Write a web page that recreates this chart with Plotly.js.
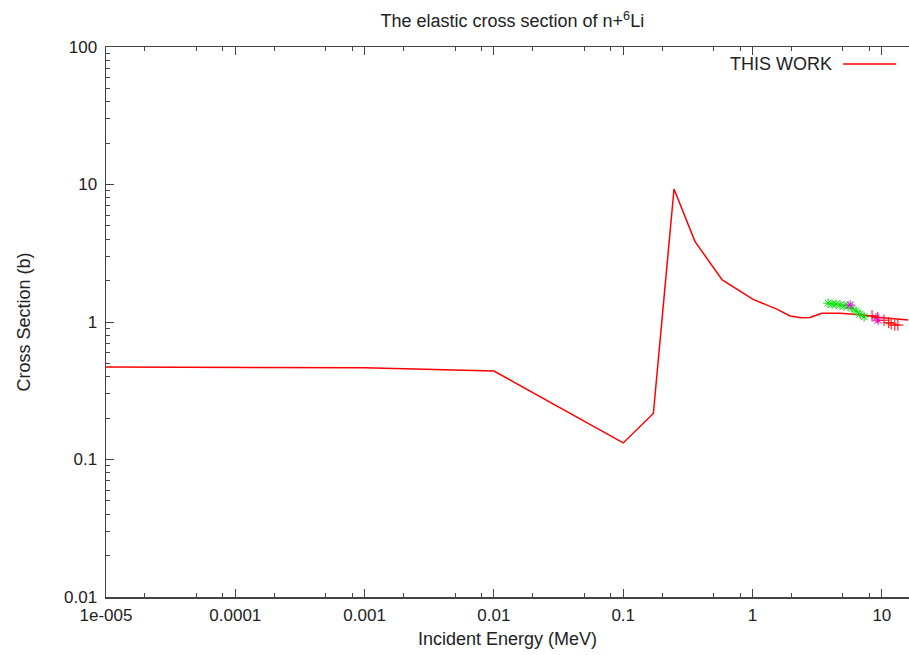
<!DOCTYPE html>
<html>
<head>
<meta charset="utf-8">
<script src="https://cdn.plot.ly/plotly-3.0.1.min.js"></script>
<style>
  html, body { margin: 0; padding: 0; background: #fff; }
  #chart { width: 909px; height: 655px; }
</style>
</head>
<body>
<div id="chart"></div>
<script>
// Evaluated elastic cross section of n + 6Li (energy in MeV, cross section in barns)
const workEnergy = [1e-5, 0.001, 0.01, 0.1, 0.171, 0.247, 0.359, 0.583, 1.01, 1.54, 1.95, 2.4, 2.78, 3.43, 4.75, 7.2, 9.7, 16.0];
const workSigma  = [0.471, 0.465, 0.44, 0.132, 0.216, 9.27, 3.84, 2.02, 1.46, 1.24, 1.107, 1.075, 1.08, 1.156, 1.156, 1.124, 1.08, 1.035];

// Measured points, set A (green)
const expAEnergy = [3.84, 4.12, 4.42, 4.75, 5.10, 5.48, 5.89, 6.32, 6.79, 7.29];
const expASigma  = [1.37, 1.35, 1.35, 1.33, 1.31, 1.31, 1.26, 1.20, 1.14, 1.09];

// Measured points, set B (magenta)
const expBEnergy = [5.68, 9.0, 9.36];
const expBSigma  = [1.33, 1.07, 1.03];

// Measured points, set C (red)
const expCEnergy = [8.4, 9.3, 10.4, 11.3, 11.8, 12.6, 13.3];
const expCSigma  = [1.11, 1.08, 1.03, 0.99, 0.97, 0.95, 0.95];

// Axis tick positions and labels
const xTickVals = [1e-5, 1e-4, 1e-3, 1e-2, 0.1, 1, 10];
const xTickText = ['1e-005', '0.0001', '0.001', '0.01', '0.1', '1', '10'];
const yTickVals = [0.01, 0.1, 1, 10, 100];
const yTickText = ['0.01', '0.1', '1', '10', '100'];

// minor ticks: 2, 5, 8 per decade on x; 2..9 per decade on y
const xMinor = [];
for (let e = -5; e <= 1; e++) {
  [2, 5, 8].forEach(m => xMinor.push(m * Math.pow(10, e)));
}
const yMinor = [];
for (let e = -2; e <= 1; e++) {
  for (let m = 2; m <= 9; m++) yMinor.push(m * Math.pow(10, e));
}

const axisColor = '#444';
const textColor = '#222';
const fontFamily = '"Liberation Sans", Arial, Helvetica, sans-serif';

const traces = [
  {
    x: workEnergy, y: workSigma, type: 'scatter', mode: 'lines',
    name: 'THIS WORK',
    line: { color: '#ff0000', width: 1.5 },
    showlegend: false
  },
  {
    x: expAEnergy, y: expASigma, type: 'scatter', mode: 'markers',
    marker: { symbol: 'asterisk-open', size: 8, color: '#00e000', line: { color: '#00e000', width: 1 } },
    showlegend: false
  },
  {
    x: expBEnergy, y: expBSigma, type: 'scatter', mode: 'markers',
    marker: { symbol: 'asterisk-open', size: 8, color: '#ff00ff', line: { color: '#ff00ff', width: 1 } },
    showlegend: false
  },
  {
    x: expCEnergy, y: expCSigma, type: 'scatter', mode: 'markers',
    marker: { symbol: 'cross-thin-open', size: 8, color: '#ff0000', line: { color: '#ff0000', width: 1 } },
    showlegend: false
  }
];

const layout = {
  width: 909, height: 655,
  margin: { l: 106, r: 0, t: 47, b: 58 },
  paper_bgcolor: '#fff', plot_bgcolor: '#fff',
  font: { family: fontFamily, size: 17, color: textColor },
  title: {
    text: 'The elastic cross section of n+<sup>6</sup>Li',
    font: { family: fontFamily, size: 18, color: textColor },
    xref: 'paper', x: 0.506, xanchor: 'center',
    yref: 'container', y: 0.968, yanchor: 'middle'
  },
  xaxis: {
    type: 'log', range: [-5, 1.21],
    showgrid: false, zeroline: false,
    showline: true, linecolor: axisColor, linewidth: 1.5, mirror: 'ticks',
    ticks: 'inside', ticklen: 8, tickwidth: 1, tickcolor: axisColor,
    tickmode: 'array', tickvals: xTickVals, ticktext: xTickText,
    tickfont: { family: fontFamily, size: 17, color: textColor },
    ticklabelstandoff: 2,
    minor: { tickmode: 'array', tickvals: xMinor, ticks: 'inside', ticklen: 4, tickcolor: axisColor, tickwidth: 1, showgrid: false },
    title: { text: 'Incident Energy (MeV)', font: { family: fontFamily, size: 18, color: textColor }, standoff: 8 }
  },
  yaxis: {
    type: 'log', range: [-2, 2],
    showgrid: false, zeroline: false,
    showline: true, linecolor: axisColor, linewidth: 1.5, mirror: false,
    ticks: 'inside', ticklen: 8, tickwidth: 1, tickcolor: axisColor,
    tickmode: 'array', tickvals: yTickVals, ticktext: yTickText,
    tickfont: { family: fontFamily, size: 17, color: textColor },
    ticklabelstandoff: 4,
    minor: { tickmode: 'array', tickvals: yMinor, ticks: 'inside', ticklen: 4, tickcolor: axisColor, tickwidth: 1, showgrid: false },
    title: { text: 'Cross Section (b)', font: { family: fontFamily, size: 18, color: textColor }, standoff: 28 }
  },
  annotations: [
    {
      xref: 'paper', yref: 'paper', x: 0.906, y: 0.969,
      xanchor: 'right', yanchor: 'middle', showarrow: false,
      text: 'THIS WORK', font: { family: fontFamily, size: 18, color: textColor }
    }
  ],
  shapes: [
    {
      type: 'line', xref: 'paper', yref: 'paper',
      x0: 0.918, x1: 0.984, y0: 0.969, y1: 0.969,
      line: { color: '#ff0000', width: 1.5 }
    }
  ]
};

Plotly.newPlot('chart', traces, layout, { displayModeBar: false, staticPlot: true });
</script>
</body>
</html>
